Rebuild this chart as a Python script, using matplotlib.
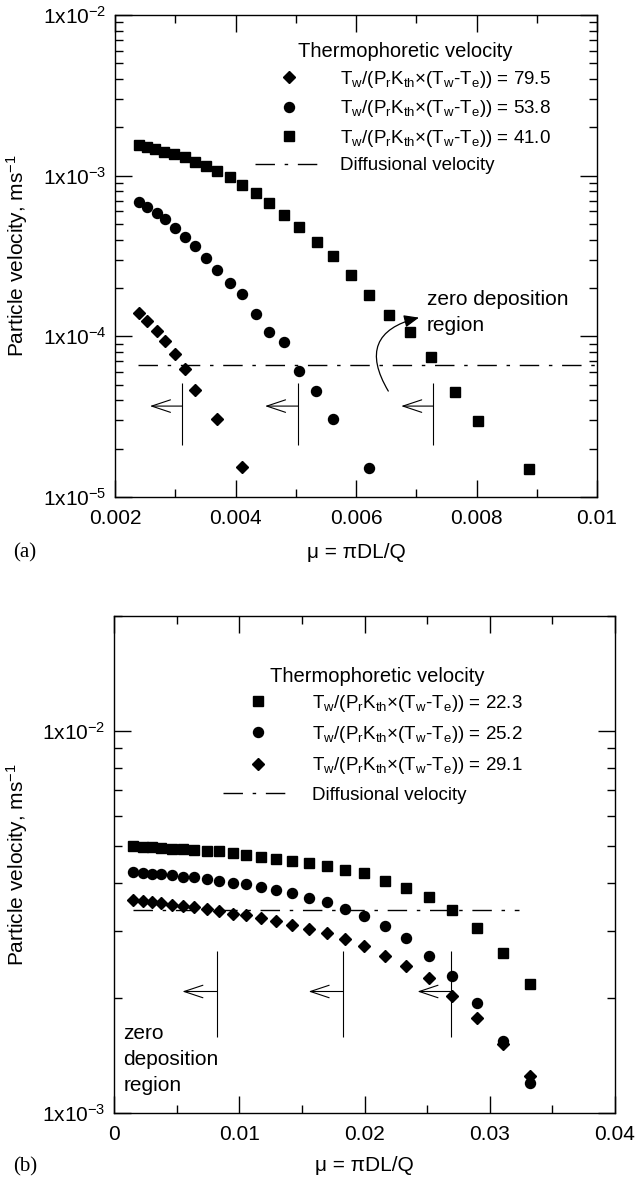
import matplotlib
matplotlib.use('Agg')
import matplotlib.pyplot as plt
from matplotlib.ticker import LogLocator, NullFormatter, MultipleLocator
from matplotlib.lines import Line2D
from matplotlib.patches import FancyArrowPatch

plt.rcParams['font.family'] = ['Liberation Sans', 'DejaVu Sans']
plt.rcParams['mathtext.fontset'] = 'custom'
plt.rcParams['mathtext.rm'] = 'Liberation Sans'
plt.rcParams['mathtext.it'] = 'Liberation Sans:italic'
plt.rcParams['mathtext.bf'] = 'Liberation Sans:bold'

# ---- panel (a) data ----
mu_sq_a = [0.002404, 0.002525, 0.002663, 0.002813, 0.002978, 0.003155, 0.003327, 0.003509,
           0.003697, 0.003907, 0.004112, 0.004333, 0.004559, 0.004808, 0.005057, 0.005345,
           0.005621, 0.005909, 0.006218, 0.006549, 0.006904, 0.007252, 0.007639, 0.008025, 0.00887]
v_sq_a = [1.55e-3, 1.50e-3, 1.46e-3, 1.41e-3, 1.36e-3, 1.30e-3, 1.22e-3, 1.15e-3,
          1.07e-3, 9.77e-4, 8.75e-4, 7.84e-4, 6.79e-4, 5.67e-4, 4.81e-4, 3.88e-4,
          3.16e-4, 2.41e-4, 1.81e-4, 1.36e-4, 1.06e-4, 7.47e-5, 4.50e-5, 2.99e-5, 1.50e-5]
mu_ci_a = [0.002404, 0.002536, 0.002691, 0.002834, 0.002989, 0.003155, 0.003327, 0.003509,
           0.003697, 0.003907, 0.004112, 0.004333, 0.004559, 0.004808, 0.005057, 0.005335,
           0.005618, 0.00621]
v_ci_a = [6.89e-4, 6.41e-4, 5.83e-4, 5.35e-4, 4.74e-4, 4.17e-4, 3.66e-4, 3.06e-4,
          2.59e-4, 2.14e-4, 1.84e-4, 1.38e-4, 1.07e-4, 9.18e-5, 6.11e-5, 4.58e-5,
          3.04e-5, 1.52e-5]
mu_di_a = [0.002404, 0.002536, 0.002691, 0.002834, 0.002989, 0.003155, 0.003325, 0.003699, 0.0041]
v_di_a = [1.40e-4, 1.25e-4, 1.08e-4, 9.31e-5, 7.76e-5, 6.24e-5, 4.63e-5, 3.08e-5, 1.54e-5]
diff_a = 6.6e-5
diff_mu_a = [0.00239, 0.01]
labels_a = [r'T$_{\rm w}$/(P$_{\rm r}$K$_{\rm th}$×(T$_{\rm w}$-T$_{\rm e}$)) = 79.5',
            r'T$_{\rm w}$/(P$_{\rm r}$K$_{\rm th}$×(T$_{\rm w}$-T$_{\rm e}$)) = 53.8',
            r'T$_{\rm w}$/(P$_{\rm r}$K$_{\rm th}$×(T$_{\rm w}$-T$_{\rm e}$)) = 41.0',
            'Diffusional velocity']
vline_mu_a = [0.00312, 0.00504, 0.00728]
arrow_tip_a = [0.00258, 0.00449, 0.00675]

# ---- panel (b) data ----
mu_b = [0.00149, 0.00229, 0.00303, 0.00375, 0.00460, 0.00554, 0.00641, 0.00740, 0.00841,
        0.00948, 0.01054, 0.01174, 0.01293, 0.01419, 0.01557, 0.01698, 0.01847, 0.01996,
        0.02161, 0.02331, 0.02512, 0.02696, 0.02898, 0.03102, 0.03318]
v_sq_b = [4.99e-3, 4.98e-3, 4.96e-3, 4.94e-3, 4.92e-3, 4.90e-3, 4.88e-3, 4.86e-3, 4.84e-3,
          4.79e-3, 4.745e-3, 4.69e-3, 4.63e-3, 4.57e-3, 4.50e-3, 4.42e-3, 4.33e-3, 4.24e-3,
          4.06e-3, 3.88e-3, 3.67e-3, 3.39e-3, 3.05e-3, 2.62e-3, 2.17e-3]
v_ci_b = [4.27e-3, 4.25e-3, 4.23e-3, 4.22e-3, 4.20e-3, 4.16e-3, 4.14e-3, 4.10e-3, 4.05e-3,
          4.01e-3, 3.97e-3, 3.91e-3, 3.84e-3, 3.76e-3, 3.66e-3, 3.56e-3, 3.43e-3, 3.27e-3,
          3.08e-3, 2.87e-3, 2.58e-3, 2.28e-3, 1.94e-3, 1.54e-3, 1.20e-3]
v_di_b = [3.60e-3, 3.58e-3, 3.56e-3, 3.54e-3, 3.51e-3, 3.49e-3, 3.46e-3, 3.41e-3, 3.37e-3,
          3.32e-3, 3.29e-3, 3.24e-3, 3.18e-3, 3.11e-3, 3.04e-3, 2.96e-3, 2.86e-3, 2.73e-3,
          2.58e-3, 2.43e-3, 2.25e-3, 2.02e-3, 1.77e-3, 1.52e-3, 1.25e-3]
diff_b = 3.39e-3
diff_mu_b = [0.00149, 0.0323]
labels_b = [r'T$_{\rm w}$/(P$_{\rm r}$K$_{\rm th}$×(T$_{\rm w}$-T$_{\rm e}$)) = 22.3',
            r'T$_{\rm w}$/(P$_{\rm r}$K$_{\rm th}$×(T$_{\rm w}$-T$_{\rm e}$)) = 25.2',
            r'T$_{\rm w}$/(P$_{\rm r}$K$_{\rm th}$×(T$_{\rm w}$-T$_{\rm e}$)) = 29.1',
            'Diffusional velocity']
vline_mu_b = [0.0082, 0.01826, 0.02691]
arrow_tip_b = [0.00546, 0.01554, 0.02423]

DASH = (0, (14, 7, 2.5, 7))
MS = 7.2

fig = plt.figure(figsize=(6.36, 11.83), dpi=100)
ax = fig.add_axes([115/636, 1-497/1183, 482/636, 482/1183])
ax2 = fig.add_axes([114/636, 1-1113/1183, 501/636, 497/1183])


def style_axes(a, ymaj, ylab):
    a.set_yscale('log')
    a.set_yticks(ymaj, labels=ylab)
    a.yaxis.set_minor_locator(LogLocator(base=10, subs=range(2, 10)))
    a.yaxis.set_minor_formatter(NullFormatter())
    a.tick_params(which='both', direction='in', top=True, right=True, labelsize=15, width=1.0)
    a.tick_params(which='major', length=12)
    a.tick_params(which='minor', length=6)
    a.tick_params(axis='x', pad=9)
    a.tick_params(axis='y', pad=6)
    for s in a.spines.values():
        s.set_linewidth(1.0)


# ---- panel (a) ----
ax.plot(mu_di_a, v_di_a, 'D', color='k', ms=6.5, ls='none')
ax.plot(mu_ci_a, v_ci_a, 'o', color='k', ms=MS, ls='none')
ax.plot(mu_sq_a, v_sq_a, 's', color='k', ms=MS, ls='none')
ax.plot(diff_mu_a, [diff_a, diff_a], color='k', lw=1.0, ls=DASH)
ax.set_xlim(0.002, 0.01)
ax.set_ylim(1e-5, 1e-2)
ax.set_xticks([0.002, 0.004, 0.006, 0.008, 0.01], labels=['0.002', '0.004', '0.006', '0.008', '0.01'])
ax.xaxis.set_minor_locator(MultipleLocator(0.001))
style_axes(ax, [1e-5, 1e-4, 1e-3, 1e-2],
           [r'1x10$^{-5}$', r'1x10$^{-4}$', r'1x10$^{-3}$', r'1x10$^{-2}$'])
ax.set_xlabel('μ = πDL/Q', fontsize=15)
ax.xaxis.set_label_coords(0.5, -0.095)
ax.set_ylabel('Particle velocity, ms$^{-1}$', fontsize=15)
ax.yaxis.set_label_coords(-0.176, 0.5)

ax.vlines(vline_mu_a, 2.1e-5, 5.1e-5, color='k', lw=0.8)
for xl, xt in zip(vline_mu_a, arrow_tip_a):
    ax.annotate('', xy=(xt, 3.68e-5), xytext=(xl, 3.68e-5),
                arrowprops=dict(arrowstyle='->,head_length=0.9,head_width=0.3', lw=0.8,
                                color='k', shrinkA=0, shrinkB=0, mutation_scale=15))
ax.add_patch(FancyArrowPatch((0.00656, 4.41e-5), (0.00709, 1.32e-4),
                             connectionstyle='arc3,rad=-0.7',
                             arrowstyle='-|>,head_length=0.6,head_width=0.25',
                             mutation_scale=15, lw=0.9, color='k'))
ax.text(0.007174, 1.41e-4, 'zero deposition\nregion', fontsize=15, ha='left', va='center',
        linespacing=1.5)

hd_a = [Line2D([], [], marker='D', color='k', ms=6.5, ls='none'),
        Line2D([], [], marker='o', color='k', ms=MS, ls='none'),
        Line2D([], [], marker='s', color='k', ms=MS, ls='none'),
        Line2D([], [], color='k', lw=1.0, ls=DASH)]
ax.legend(hd_a, labels_a, loc='upper left', bbox_to_anchor=(0.29, 0.888), frameon=False,
          fontsize=13.5, handlelength=3.6, handletextpad=0.95, labelspacing=0.45,
          borderpad=0, borderaxespad=0)
ax.text(0.38, 0.924, 'Thermophoretic velocity', transform=ax.transAxes, fontsize=14.5,
        ha='left', va='center')

# ---- panel (b) ----
ax2.plot(mu_b, v_sq_b, 's', color='k', ms=MS, ls='none')
ax2.plot(mu_b, v_ci_b, 'o', color='k', ms=MS, ls='none')
ax2.plot(mu_b, v_di_b, 'D', color='k', ms=6.5, ls='none')
ax2.plot(diff_mu_b, [diff_b, diff_b], color='k', lw=1.0, ls=DASH)
ax2.set_xlim(0, 0.04)
ax2.set_ylim(1e-3, 2e-2)
ax2.set_xticks([0, 0.01, 0.02, 0.03, 0.04], labels=['0', '0.01', '0.02', '0.03', '0.04'])
ax2.xaxis.set_minor_locator(MultipleLocator(0.005))
style_axes(ax2, [1e-3, 1e-2], [r'1x10$^{-3}$', r'1x10$^{-2}$'])
ax2.set_xlabel('μ = πDL/Q', fontsize=15)
ax2.xaxis.set_label_coords(0.5, -0.0865)
ax2.set_ylabel('Particle velocity, ms$^{-1}$', fontsize=15)
ax2.yaxis.set_label_coords(-0.168, 0.5)

ax2.vlines(vline_mu_b, 1.58e-3, 2.65e-3, color='k', lw=0.8)
for xl, xt in zip(vline_mu_b, arrow_tip_b):
    ax2.annotate('', xy=(xt, 2.08e-3), xytext=(xl, 2.08e-3),
                 arrowprops=dict(arrowstyle='->,head_length=0.9,head_width=0.3', lw=0.8,
                                 color='k', shrinkA=0, shrinkB=0, mutation_scale=15))
ax2.text(0.00075, 1.38e-3, 'zero\ndeposition\nregion', fontsize=15, ha='left', va='center',
         linespacing=1.45)

hd_b = [Line2D([], [], marker='s', color='k', ms=MS, ls='none'),
        Line2D([], [], marker='o', color='k', ms=MS, ls='none'),
        Line2D([], [], marker='D', color='k', ms=6.5, ls='none'),
        Line2D([], [], color='k', lw=1.0, ls=DASH)]
ax2.legend(hd_b, labels_b, loc='upper left', bbox_to_anchor=(0.2176, 0.846), frameon=False,
           fontsize=13.5, handlelength=3.75, handletextpad=1.0, labelspacing=0.55,
           borderpad=0, borderaxespad=0)
ax2.text(0.311, 0.878, 'Thermophoretic velocity', transform=ax2.transAxes, fontsize=14.5,
         ha='left', va='center')

fig.text(25/636, 1-553/1183, '(a)', family='Liberation Serif', fontsize=15, ha='center', va='center')
fig.text(25/636, 1-1167/1183, '(b)', family='Liberation Serif', fontsize=15, ha='center', va='center')

fig.savefig('out.png', dpi=100)
